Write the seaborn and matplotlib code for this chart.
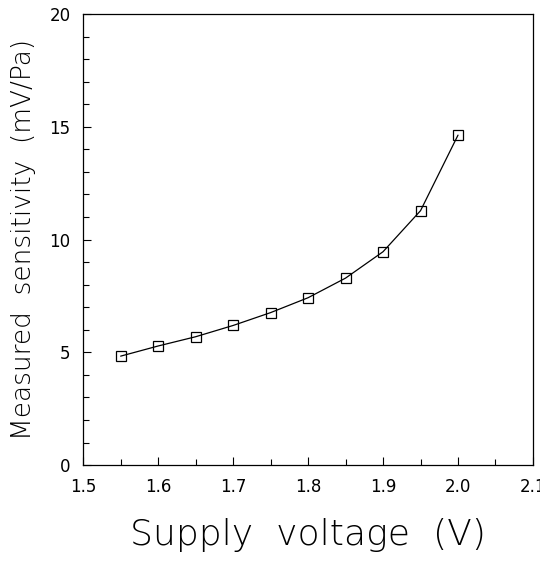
import numpy as np
import matplotlib
matplotlib.use('Agg')
import matplotlib.pyplot as plt
from matplotlib.ticker import MultipleLocator, FormatStrFormatter
import seaborn as sns
import pandas as pd

# Data
supply_voltage = [1.55, 1.60, 1.65, 1.70, 1.75, 1.80, 1.85, 1.90, 1.95, 2.00]
sensitivity = [4.83, 5.28, 5.69, 6.19, 6.76, 7.42, 8.29, 9.46, 11.28, 14.63]

x_label = 'Supply  voltage  (V)'
y_label = 'Measured  sensitivity  (mV/Pa)'

sns.set_style('ticks')
plt.rcParams['font.family'] = ['DejaVu Sans']

df = pd.DataFrame({'voltage': supply_voltage, 'sensitivity': sensitivity})

fig = plt.figure(figsize=(5.4, 5.61), dpi=100)
ax = fig.add_axes([0.154, 0.171, 0.833, 0.804])

sns.lineplot(data=df, x='voltage', y='sensitivity', ax=ax, color='black',
             linewidth=0.9, marker='s', markersize=6.5, markerfacecolor='none',
             markeredgecolor='black', markeredgewidth=0.9)

ax.set_xlim(1.5, 2.1)
ax.set_ylim(0, 20)
ax.xaxis.set_major_locator(MultipleLocator(0.1))
ax.xaxis.set_minor_locator(MultipleLocator(0.05))
ax.yaxis.set_major_locator(MultipleLocator(5))
ax.yaxis.set_minor_locator(MultipleLocator(1))
ax.xaxis.set_major_formatter(FormatStrFormatter('%.1f'))

ax.tick_params(which='both', direction='in', top=False, right=False,
               labelsize=12, width=0.8, pad=9, colors='black',
               labelcolor='black')
ax.tick_params(which='major', length=6)
ax.tick_params(which='minor', length=4.5)
for s in ax.spines.values():
    s.set_linewidth(0.9)
    s.set_color('black')

ax.set_xlabel(x_label, fontsize=26, fontweight='light', color='black',
              labelpad=16)
ax.set_ylabel(y_label, fontsize=19, fontweight='light', color='black',
              labelpad=10)

fig.savefig('out.png', dpi=100)
